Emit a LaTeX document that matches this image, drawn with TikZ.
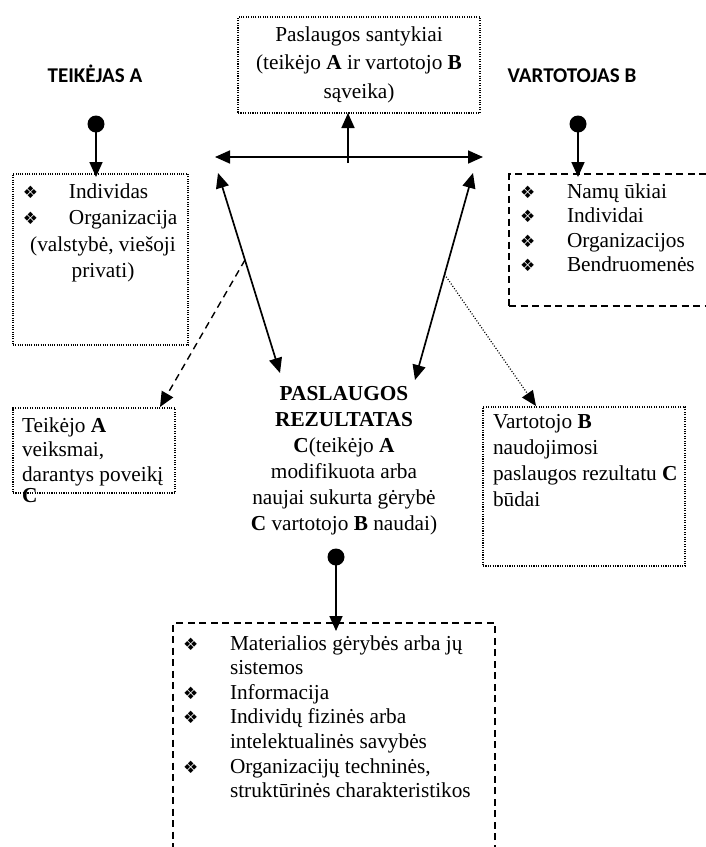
\documentclass[tikz,border=0pt]{standalone}
\usepackage{fontspec}
\setmainfont{Liberation Serif}
\newfontfamily\headfont{Carlito}
\newfontfamily\symfont{DejaVu Sans}
\usetikzlibrary{arrows.meta,calc}
\newcommand{\bul}{{\symfont\fontsize{17}{17}\selectfont\raisebox{0pt}{❖}}}
\begin{document}
\begin{tikzpicture}[x=1pt,y=-1pt,
  every node/.style={inner sep=0pt,outer sep=0pt},
  txt/.style={font=\fontsize{21.3}{#1}\selectfont,anchor=base west},
  txt/.default=24.6,
  ctxt/.style={txt=#1,anchor=base},
  ctxt/.default=24.6,
  head/.style={font=\headfont\bfseries\fontsize{21}{24}\selectfont,anchor=base},
  frame/.style={draw,minimum width=#1,anchor=north west},
  thickdots/.style={line width=1.8pt,dash pattern=on 1.1pt off 1.3pt},
  thindots/.style={line width=1.3pt,dash pattern=on 1pt off 1.3pt},
  dashbox/.style={line width=1.5pt,dash pattern=on 7pt off 4.5pt},
  tip/.style={-{Triangle[length=15pt,width=13pt]}},
  dtip/.style={{Triangle[length=15pt,width=13pt]}-{Triangle[length=15pt,width=13pt]}},
  arr/.style={line width=1.7pt},
  dot/.style={circle,fill,minimum size=17pt}
]
\useasboundingbox (0,0) rectangle (706,847);

% frames
\node[frame=242pt,minimum height=96pt,thickdots] (rel) at (238,17) {};
\node[frame=175pt,minimum height=171pt,thindots] (prov) at (13,174) {};
\node[frame=205pt,minimum height=132pt,dashbox] (cons) at (509,174) {};
\node[frame=162pt,minimum height=85pt,thickdots] (act) at (13,408) {};
\node[frame=202pt,minimum height=159pt,thickdots] (use) at (483,407) {};
\node[frame=322pt,minimum height=240pt,dashbox] (goods) at (173,623) {};

% headings
\node[head] (hA) at (95,82) {TEIKĖJAS A};
\node[head] (hB) at (572,82) {VARTOTOJAS B};

% texts
\node[ctxt=28.5] (relT) at (359,41) {\begin{tabular}[t]{@{}c@{}}Paslaugos santykiai\\(teikėjo \textbf{A} ir vartotojo \textbf{B}\\sąveika)\end{tabular}};
\node[txt=26.5] (provL) at (23,198) {\begin{tabular}[t]{@{}p{46pt}@{}l@{}}\bul & Individas\\ \bul & Organizacija\end{tabular}};
\node[ctxt=26.5] (provC) at (103,251) {\begin{tabular}[t]{@{}c@{}}(valstybė, viešoji\\privati)\end{tabular}};
\node[txt] (consL) at (520,198) {\begin{tabular}[t]{@{}p{47pt}@{}l@{}}\bul & Namų ūkiai\\ \bul & Individai\\ \bul & Organizacijos\\ \bul & Bendruomenės\end{tabular}};
\node[txt] (actT) at (22,432) {\begin{tabular}[t]{@{}l@{}}Teikėjo \textbf{A}\\veiksmai,\\darantys poveikį\\[-3pt]\textbf{C}\end{tabular}};
\node[txt=26.3] (useT) at (493,428) {\begin{tabular}[t]{@{}l@{}}Vartotojo \textbf{B}\\naudojimosi\\paslaugos rezultatu \textbf{C}\\būdai\end{tabular}};
\node[ctxt=26] (res) at (344,400) {\begin{tabular}[t]{@{}c@{}}\textbf{PASLAUGOS}\\\textbf{REZULTATAS}\\\textbf{C}(teikėjo \textbf{A}\\modifikuota arba\\naujai sukurta gėrybė\\\textbf{C} vartotojo \textbf{B} naudai)\end{tabular}};
\node[txt] (goodsL) at (183,650) {\begin{tabular}[t]{@{}p{47pt}@{}l@{}}\bul & Materialios gėrybės arba jų\\ & sistemos\\ \bul & Informacija\\ \bul & Individų fizinės arba\\ & intelektualinės savybės\\ \bul & Organizacijų techninės,\\ & struktūrinės charakteristikos\end{tabular}};

% dots
\node[dot] (dA) at (96,124) {};
\node[dot] (dB) at (578,124) {};
\node[dot] (dC) at (336,557) {};

% connector end points
\coordinate (hl) at (215,157);
\coordinate (hr) at (483,157);
\coordinate (vb) at (348,163);
\coordinate (la) at (218,173);
\coordinate (lb) at (280,373);
\coordinate (ra) at (473,173);
\coordinate (rb) at (415,380);
\coordinate (d4) at (160,407);
\coordinate (d5) at (536,406);

% connectors
\draw[arr,dtip] (hl) -- (hr);
\draw[arr,tip] (vb) -- (rel.south -| vb);
\draw[arr,dtip] (la) -- (lb);
\draw[arr,dtip] (ra) -- (rb);
\draw[arr,tip] (dA.center) -- ($(prov.north -| dA)+(0,3)$);
\draw[arr,tip] (dB.center) -- ($(cons.north -| dB)+(0,3)$);
\draw[arr,tip] (dC.center) -- ($(goods.north -| dC)+(0,8)$);
\draw[line width=1.4pt,dash pattern=on 7pt off 5pt,tip] ($(la)!0.435!(lb)$) -- (d4);
\draw[line width=1.2pt,dash pattern=on 1pt off 1.8pt,tip] ($(ra)!0.49!(rb)$) -- (d5);
\end{tikzpicture}
\end{document}
